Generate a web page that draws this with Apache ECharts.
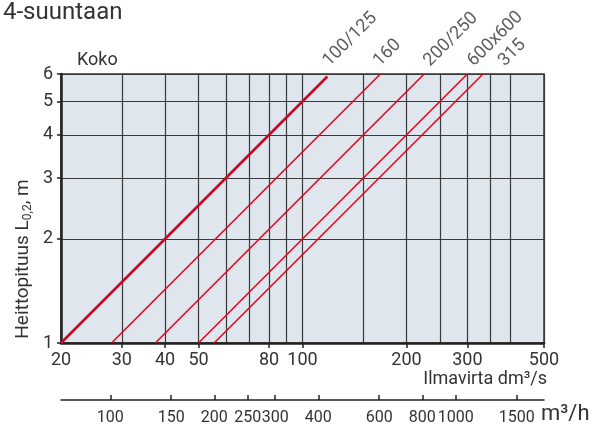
<!DOCTYPE html>
<html>
<head>
<meta charset="utf-8">
<script src="https://cdn.jsdelivr.net/npm/echarts@6/dist/echarts.min.js"></script>
<style>
html, body { margin: 0; padding: 0; background: #fff; }
#chart { width: 599px; height: 426px; }
</style>
</head>
<body>
<div id="chart"></div>
<script>
// koot (sizes) and their lines, dm3/s vs heittopituus m
const sizes = ['100/125', '160', '200/250', '600x600', '315']
const lineData = [
  [[20, 1], [118, 5.9]],
  [[28, 1], [168, 6]],
  [[37.5, 1], [225, 6]],
  [[50, 1], [300, 6]],
  [[55.5, 1], [333, 6]],
]
// where the size texts sit along the top edge (dm3/s)
const labelX = [122, 171, 239, 320, 393]

const gridX = [30, 40, 50, 60, 70, 80, 90, 100, 150, 200, 250, 300, 350, 400, 500]
const tickX = [30, 40, 50, 80, 100, 200, 300, 500]
const labelsX = [20, 30, 40, 50, 80, 100, 200, 300, 500]
const ticksY = [1, 2, 3, 4, 5, 6]
const ticksM3h = [100, 150, 200, 250, 300, 400, 600, 800, 1000, 1500]

const FONT = 'Roboto'
const TXT = '#333'
const GRIDC = '#3a3a3a'

const chart = echarts.init(document.getElementById('chart'))

const lineSeries = lineData.map((d, i) => ({
  name: sizes[i],
  type: 'line',
  data: d,
  showSymbol: false,
  symbol: 'none',
  silent: true,
  lineStyle: {
    color: i === 0 ? '#c20b26' : '#e4061f',
    width: i === 0 ? 2.6 : 1.6,
  },
  z: 5,
}))

const plain = v => String(v)

chart.setOption({
  animation: false,
  textStyle: { fontFamily: FONT },
  grid: {
    left: 61,
    right: 55,
    top: 74,
    bottom: 83,
    show: true,
    backgroundColor: '#dfe6ee',
    borderColor: '#333',
    borderWidth: 1.5,
    outerBoundsMode: 'none',
  },
  xAxis: [
    {
      // gridlines only
      type: 'log',
      min: 20,
      max: 500,
      position: 'bottom',
      axisLine: { show: true, lineStyle: { color: '#222', width: 2.5 } },
      axisTick: { show: false, customValues: gridX },
      axisLabel: { show: false },
      splitLine: { show: true, lineStyle: { color: GRIDC, width: 1.2 } },
    },
    {
      // ticks + labels dm3/s
      type: 'log',
      min: 20,
      max: 500,
      position: 'bottom',
      axisLine: { show: false },
      axisTick: { show: true, customValues: tickX, length: 5, lineStyle: { color: '#222', width: 1.5 } },
      axisLabel: { customValues: labelsX, formatter: plain, fontSize: 18, color: TXT, margin: 8, fontFamily: FONT },
      splitLine: { show: false },
    },
    {
      // m3/h scale (= dm3/s * 3.6)
      type: 'log',
      min: 72,
      max: 1800,
      position: 'bottom',
      offset: 57,
      axisLine: { show: true, lineStyle: { color: '#222', width: 1.5 } },
      axisTick: { show: true, customValues: ticksM3h, inside: true, length: 5, lineStyle: { color: '#222', width: 1.5 } },
      axisLabel: { customValues: ticksM3h, formatter: plain, fontSize: 16, color: TXT, margin: 10, fontFamily: FONT },
      splitLine: { show: false },
    },
  ],
  yAxis: {
    type: 'log',
    min: 1,
    max: 6,
    axisLine: { show: true, lineStyle: { color: '#222', width: 2.5 } },
    axisTick: { show: true, customValues: ticksY, length: 4, lineStyle: { color: '#222', width: 1.5 } },
    axisLabel: { customValues: ticksY, formatter: plain, fontSize: 18, color: TXT, margin: 8, fontFamily: FONT },
    splitLine: { show: true, lineStyle: { color: GRIDC, width: 1.2 } },
  },
  series: [
    ...lineSeries,
    {
      type: 'scatter',
      silent: true,
      clip: false,
      symbolSize: 0,
      data: labelX.map((x, i) => [x, 6, sizes[i]]),
      label: {
        show: true,
        formatter: p => p.value[2],
        position: 'top',
        distance: 4,
        rotate: 45,
        align: 'left',
        verticalAlign: 'bottom',
        fontSize: 18,
        color: TXT,
        fontFamily: FONT,
      },
      z: 6,
    },
  ],
  graphic: [
    {
      type: 'text', x: 3, y: 13,
      style: { text: '4-suuntaan', fontSize: 24, fontFamily: FONT, fill: TXT, align: 'left', verticalAlign: 'middle', textAlign: 'left', textVerticalAlign: 'middle' },
    },
    {
      type: 'text', x: 77, y: 60,
      style: { text: 'Koko', fontSize: 18, fontFamily: FONT, fill: TXT, align: 'left', verticalAlign: 'middle', textAlign: 'left', textVerticalAlign: 'middle' },
    },
    {
      type: 'text', x: 547, y: 379,
      style: { text: 'Ilmavirta dm³/s', fontSize: 18, fontFamily: FONT, fill: TXT, align: 'right', verticalAlign: 'middle', textAlign: 'right', textVerticalAlign: 'middle' },
    },
    {
      type: 'text', x: 541, y: 414,
      style: { text: 'm³/h', fontSize: 22, fontFamily: FONT, fill: TXT, align: 'left', verticalAlign: 'middle', textAlign: 'left', textVerticalAlign: 'middle' },
    },
    {
      type: 'text', x: 23, y: 259, rotation: Math.PI / 2,
      style: {
        text: '{a|Heittopituus L}{s|0,2}{a|, m}',
        fill: TXT,
        align: 'center', verticalAlign: 'middle', textAlign: 'center', textVerticalAlign: 'middle',
        rich: {
          a: { fontSize: 19, fontFamily: FONT, fill: TXT, lineHeight: 22 },
          s: { fontSize: 12, fontFamily: FONT, fill: TXT, lineHeight: 12, verticalAlign: 'bottom' },
        },
      },
    },
  ],
})
</script>
</body>
</html>
